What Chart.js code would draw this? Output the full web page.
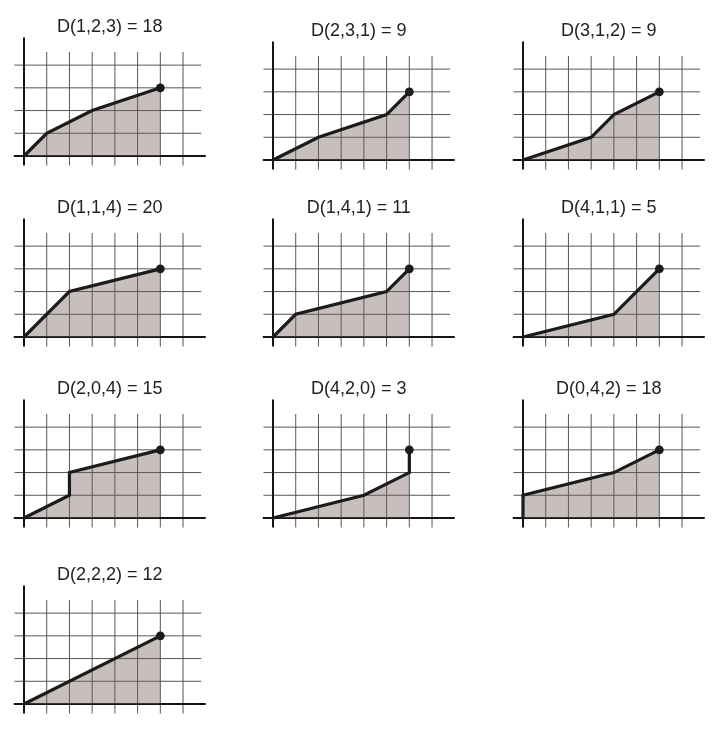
<!DOCTYPE html>
<html>
<head>
<meta charset="utf-8">
<script src="https://cdn.jsdelivr.net/npm/chart.js@4.4.1/dist/chart.umd.min.js"></script>
<style>
  html, body { margin: 0; padding: 0; background: #fff; }
  #wrap { position: relative; width: 720px; height: 729px; overflow: hidden; }
  #wrap canvas { position: absolute; }
</style>
</head>
<body>
<div id="wrap"></div>
<script>
// panel titles and path vertices (grid units)
const titles = [
  'D(1,2,3) = 18', 'D(2,3,1) = 9', 'D(3,1,2) = 9',
  'D(1,1,4) = 20', 'D(1,4,1) = 11', 'D(4,1,1) = 5',
  'D(2,0,4) = 15', 'D(4,2,0) = 3', 'D(0,4,2) = 18',
  'D(2,2,2) = 12'
];
const pathX = [
  [0, 1, 3, 6], [0, 2, 5, 6], [0, 3, 4, 6],
  [0, 2, 6], [0, 1, 5, 6], [0, 4, 6],
  [0, 2, 2, 6], [0, 4, 6, 6], [0, 0, 4, 6],
  [0, 6]
];
const pathY = [
  [0, 1, 2, 3], [0, 1, 2, 3], [0, 1, 2, 3],
  [0, 2, 3], [0, 1, 2, 3], [0, 1, 3],
  [0, 1, 2, 3], [0, 1, 2, 3], [0, 1, 2, 3],
  [0, 3]
];
const gridX = [1, 2, 3, 4, 5, 6, 7];
const gridY = [1, 2, 3, 4];

// page placement of each panel's origin (px)
const originX = [24, 273, 523, 24, 273, 523, 24, 273, 523, 24];
const originY = [156, 160, 160, 337, 337, 337, 518, 518, 518, 704];

const UNIT = 22.72;
const X_MIN = -0.45, X_MAX = 8, Y_MIN = -0.45, Y_MAX = 5.25;
const SIDE = 10, TOP = 8, TITLE_H = 19, CW = 212, CH = 164;

const gridPlugin = {
  id: 'paperGrid',
  beforeDatasetsDraw(chart) {
    const { ctx, scales: { x, y } } = chart;
    const seg = (x1, y1, x2, y2) => {
      ctx.beginPath();
      ctx.moveTo(x.getPixelForValue(x1), y.getPixelForValue(y1));
      ctx.lineTo(x.getPixelForValue(x2), y.getPixelForValue(y2));
      ctx.stroke();
    };
    ctx.save();
    ctx.strokeStyle = '#555';
    ctx.lineWidth = 1;
    gridX.forEach(v => seg(v, -0.42, v, 4.58));
    gridY.forEach(v => seg(-0.42, v, 7.8, v));
    ctx.strokeStyle = '#151515';
    ctx.lineWidth = 2;
    seg(-0.45, 0, 8, 0);
    seg(0, -0.42, 0, 5.22);
    ctx.restore();
  }
};

const wrap = document.getElementById('wrap');
titles.forEach((title, i) => {
  const canvas = document.createElement('canvas');
  const left = Math.round(originX[i] - SIDE + X_MIN * UNIT);
  const top = Math.round(originY[i] - Y_MAX * UNIT - TITLE_H - TOP);
  canvas.style.left = left + 'px';
  canvas.style.top = top + 'px';
  canvas.width = CW;
  canvas.height = CH;
  wrap.appendChild(canvas);

  const padLeft = originX[i] + X_MIN * UNIT - left;
  const padRight = CW - padLeft - (X_MAX - X_MIN) * UNIT;
  const padTop = originY[i] - Y_MAX * UNIT - TITLE_H - top;
  const padBottom = CH - padTop - TITLE_H - (Y_MAX - Y_MIN) * UNIT;

  const pts = pathX[i].map((v, k) => ({ x: v, y: pathY[i][k] }));
  const last = pts.length - 1;

  new Chart(canvas, {
    type: 'scatter',
    data: {
      datasets: [{
        data: pts,
        showLine: true,
        borderColor: '#1b1b1b',
        borderWidth: 3.2,
        backgroundColor: 'rgba(115,95,93,0.4)',
        fill: 'origin',
        tension: 0,
        pointRadius: c => (c.dataIndex === last ? 4.4 : 0),
        pointBackgroundColor: '#1b1b1b',
        pointBorderWidth: 0,
        clip: false
      }]
    },
    options: {
      responsive: false,
      animation: false,
      events: [],
      layout: { padding: { left: padLeft, right: padRight, top: padTop, bottom: padBottom } },
      plugins: {
        legend: { display: false },
        tooltip: { enabled: false },
        title: {
          display: true,
          text: title,
          color: '#222',
          font: { family: '"Liberation Sans", Arial, sans-serif', size: 18, weight: 'normal', lineHeight: 1 },
          padding: { top: 0, bottom: 1 }
        }
      },
      scales: {
        x: { type: 'linear', min: X_MIN, max: X_MAX, display: false },
        y: { type: 'linear', min: Y_MIN, max: Y_MAX, display: false }
      }
    },
    plugins: [gridPlugin]
  });
});
</script>
</body>
</html>
